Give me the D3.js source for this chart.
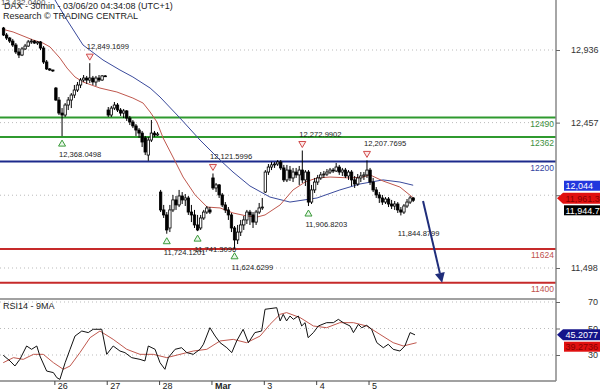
<!DOCTYPE html>
<html><head><meta charset="utf-8">
<script src="https://cdn.jsdelivr.net/npm/d3@7/dist/d3.min.js"></script>
<style>body{margin:0;background:#fff}svg{display:block;font-family:"Liberation Sans",Arial,sans-serif}</style>
</head><body><svg id="c" width="600" height="392"></svg>
<script>
// ---------- DATA ----------
const dayLabels = ["26","27","28","Mar","3","4","5"];
const dayStarts = [17,34,51,68,85,102,119];   // bar index where each labelled day begins
const priceTicks = [12936,12457,11978,11498];
const rsiTicks = [70,50,30];
const levels = [12490,12362,12200,11624,11400];

const open = [
13081,13035,13015,12995,12969,12923,12903,12943,12962,12989,12995,12982,12989,12949,12857,12811,12804,
12685,12606,12520,12507,12573,12606,12639,12672,12705,12738,12751,12738,12751,12725,12751,12738,12765,
12540,12507,12553,12573,12540,12520,12534,12487,12461,12435,12408,12388,12356,12243,12342,12388,12375,
11999,11881,11848,11762,11881,11947,11914,11973,11947,11960,11867,11848,11782,11762,11828,11867,11881,
12092,12026,12046,11980,11914,11881,11848,11762,11683,11735,11782,11815,11867,11848,11801,11867,11894,
11999,12131,12164,12178,12184,12197,12158,12079,12144,12092,12131,12112,12144,12079,12131,11933,12013,
12065,12092,12112,12118,12131,12144,12138,12164,12131,12144,12105,12131,12079,12052,12092,12105,12112,
12144,12065,12013,11980,11960,11933,11953,11920,11907,11920,11881,11867,11907,11933,11960];
const high = [
13088,13048,13022,13009,12982,12949,12956,12976,13002,13009,13002,12995,12995,12962,12870,12817,12806,
12692,12626,12553,12586,12626,12652,12705,12725,12751,12771,12765,12849.1699,12765,12765,12771,12771,12771,
12560,12567,12593,12586,12553,12547,12540,12501,12474,12448,12421,12402,12369,12362,12474,12402,12395,
12013,11914,11867,11914,11980,11973,12013,11999,11986,11973,11914,11881,11848,11848,11881,11907,11900,
12121.5996,12059,12052,11993,11933,11900,11861,11775,11782,11815,11841,11881,11881,11867,11881,11927,11960,
12144,12184,12197,12197,12210,12210,12178,12178,12171,12158,12158,12171,12272.9902,12144,12144,12046,12092,
12112,12131,12138,12151,12158,12158,12191,12178,12158,12158,12144,12144,12105,12118,12131,12131,12207.7695,
12158,12092,12032,11999,11980,11966,11966,11947,11940,11933,11900,11920,11953,11973,11966];
const low = [
13028,13002,12982,12956,12910,12883,12896,12936,12956,12976,12976,12969,12936,12844,12804,12798,12791,
12600,12507,12368.0498,12494,12540,12553,12619,12659,12685,12725,12712,12718,12705,12699,12725,12732,12758,
12494,12494,12540,12527,12501,12487,12468,12441,12421,12369,12356,12296,12243,12205,12329,12362,12369,
11867,11828,11724.1201,11735,11867,11881,11900,11920,11907,11848,11801,11762,11741.3096,11749,11815,11854,11854,
12013,11999,11960,11900,11861,11815,11735,11624.6299,11656,11709,11749,11788,11782,11762,11782,11854,11881,
11993,12112,12144,12158,12171,12144,12065,12065,12072,12065,12092,12046,12059,12039,11906.8203,11920,11993,
12046,12079,12092,12105,12118,12125,12131,12112,12105,12092,12079,12039,12026,12039,12065,12079,12092,
12046,11999,11960,11927,11914,11920,11900,11887,11881,11861,11844.8799,11854,11894,11920,11933];
const close = [
13035,13015,12995,12969,12923,12903,12943,12962,12989,12995,12982,12989,12949,12857,12811,12804,12798,
12606,12520,12507,12573,12606,12639,12672,12705,12738,12751,12738,12751,12725,12751,12738,12765,12763,
12507,12553,12573,12540,12520,12534,12487,12461,12435,12408,12388,12329,12263,12342,12388,12375,12382,
11881,11848,11749,11881,11947,11914,11973,11947,11960,11867,11848,11782,11749,11828,11867,11894,11867,
12026,12046,11980,11914,11881,11848,11762,11683,11735,11782,11815,11867,11848,11801,11867,11894,11900,
12131,12164,12178,12184,12197,12158,12079,12144,12092,12131,12112,12144,12079,12131,11933,12013,12065,
12092,12112,12118,12131,12144,12138,12164,12131,12144,12105,12131,12079,12052,12092,12105,12112,12144,
12065,12013,11980,11960,11933,11953,11920,11907,11920,11881,11867,11907,11933,11960,11944.7];

// fast moving average (red) and slow (blue): [bar position, value]
const maFastIdx = [0,3.6,10.1,13.3,15.6,18.8,21.1,23.7,26.3,31.8,37.3,42.5,45.8,48.1,50.3,52.3,55.5,58.8,62.7,66.6,70.8,75,79.5,82.8,85.4,90.3,94.5,98.4,102.3,106.5,113,117.2,119.5,123.7,129.2,133.5];
const maFastVal = [13074,13055,13002,12982,12956,12883,12817,12758,12725,12685,12659,12619,12586,12527,12461,12356,12230,12098,11980,11900,11894,11861,11841,11834,11848,11914,12013,12065,12092,12098,12092,12098,12112,12072,12032,11961];
const maSlowIdx = [15.6,17.2,21.1,26.3,32.8,38.3,42.5,48.1,51.3,57.8,64.3,70.8,75,80.5,87,93.5,102.3,109.7,116.2,123.7,129.2,133.5];
const maSlowVal = [13319,13266,13134,12969,12870,12804,12758,12685,12626,12487,12342,12210,12131,12039,11966,11933,11960,12013,12052,12079,12065,12044];

const rsiIdx = [0.4,2.6,4.2,5.8,8.0,9.6,11.3,12.3,14.5,16.7,17.8,18.8,20.5,22.1,23.7,25.9,28.0,29.6,32.4,34.0,36.1,38.3,39.9,42.1,44.8,46.4,47.5,49.7,51.3,52.9,54.0,56.2,58.3,60.0,62.1,64.3,65.4,67.5,69.2,70.8,73.0,74.6,76.2,78.3,80.0,82.1,84.3,85.4,87.0,89.2,90.3,91.3,92.4,93.5,94.6,96.2,97.3,98.4,99.4,101.1,102.7,105.4,107.6,109.2,110.8,113.0,114.1,115.7,116.8,118.4,120.0,121.7,123.8,125.4,127.0,129.2,130.8,132.5,134.1];
const rsiVal = [29.8,25.5,21.7,26.7,36.8,34.3,36.8,29.3,17.9,16.7,12.9,11.6,24.2,34.3,44.3,48.1,46.9,49.4,49.4,30.5,36.8,33.0,31.8,28.0,26.7,25.5,36.8,34.3,24.2,19.2,28.0,34.3,35.5,31.8,30.5,34.3,38.1,50.6,44.3,39.3,35.5,31.8,40.6,49.4,39.3,46.9,48.1,64.5,65.0,65.7,55.7,60.7,55.7,59.4,56.9,59.4,51.9,54.4,43.1,46.9,51.9,54.4,54.4,56.9,54.4,51.9,46.9,53.1,50.6,52.4,49.4,39.3,35.5,38.1,34.3,33.0,36.8,46.9,45.2077];
const rsiMaIdx = [0.4,3.7,6.9,10.2,13.4,16.7,19.9,22.1,25.3,28.6,31.8,36.1,40.5,44.8,49.1,53.5,57.8,62.1,66.5,70.8,75.1,79.4,83.8,87,90.3,92.4,96.8,101.1,105.4,109.7,114.1,118.4,122.7,127,130.3,134.6];
const rsiMaVal = [24.2,28.0,26.7,30.5,30.5,24.2,19.2,21.7,31.8,43.1,48.1,41.8,34.3,30.5,30.5,28.0,30.5,33.0,34.3,40.6,41.8,39.3,44.3,53.1,60.7,62.0,58.2,51.9,50.6,54.4,54.4,51.9,45.6,39.3,36.8,39.2736];

const highMarkIdx = [28,68,97,118];
const lowMarkIdx = [19,53,63,75,99];
const lowLabelOnlyIdx = [129];
const topValue = 13432.04;
const arrowFrom = [136.7, 11940];
const arrowTo = [142.9, 11400];

// ---------- DRAW ----------
const svg = d3.select('#c');
const AX = 556;
const x = d3.scaleLinear().domain([0,136]).range([2, 2+136*3.08]);
const y = d3.scaleLinear().domain([11498,12936]).range([268,50]);
const yr = d3.scaleLinear().domain([30,70]).range([355,302]);
const fmt4 = d3.format(",.4f");

svg.append('clipPath').attr('id','mc').append('rect').attr('x',0).attr('y',0).attr('width',AX).attr('height',297);
svg.append('clipPath').attr('id','rc').append('rect').attr('x',0).attr('y',299).attr('width',AX).attr('height',82);

// dotted grids
svg.append('g').selectAll('line').data(priceTicks).join('line')
  .attr('x1',0).attr('x2',AX).attr('y1',d=>y(d)).attr('y2',d=>y(d))
  .attr('stroke','#bbb').attr('stroke-dasharray','1,3');
svg.append('g').selectAll('line').data(rsiTicks).join('line')
  .attr('x1',0).attr('x2',AX).attr('y1',d=>yr(d)).attr('y2',d=>yr(d))
  .attr('stroke','#bbb').attr('stroke-dasharray','1,3');

const main = svg.append('g').attr('clip-path','url(#mc)');

// levels
const levelColors = ['#2f9a2f','#2f9a2f','#1c2a8c','#c62a2a','#c62a2a'];
const levelText = ['#3d8f3d','#3d8f3d','#3344a0','#c0504d','#c0504d'];
main.selectAll('.lv').data(levels).join('line').attr('class','lv')
  .attr('x1',0).attr('x2',AX).attr('y1',d=>y(d)).attr('y2',d=>y(d))
  .attr('stroke',(d,i)=>levelColors[i]).attr('stroke-width',2);
main.selectAll('.lt').data(levels).join('text').attr('class','lt')
  .attr('x',AX-2).attr('y',d=>y(d)+9).attr('text-anchor','end')
  .attr('font-size',8.5).attr('fill',(d,i)=>levelText[i]).text(d=>d);

// moving averages
const line = d3.line().x(d=>x(d[0])).y(d=>y(d[1]));
main.append('path').datum(maSlowIdx.map((v,i)=>[v,maSlowVal[i]]))
  .attr('d',line).attr('fill','none').attr('stroke','#3a4a9c').attr('stroke-width',1);
main.append('path').datum(maFastIdx.map((v,i)=>[v,maFastVal[i]]))
  .attr('d',line).attr('fill','none').attr('stroke','#c0584e').attr('stroke-width',1);

// candles
const bars = open.map((o,i)=>({i,o,h:high[i],l:low[i],c:close[i]}));
const cg = main.append('g');
cg.selectAll('line').data(bars).join('line')
  .attr('x1',d=>x(d.i+0.5)).attr('x2',d=>x(d.i+0.5))
  .attr('y1',d=>y(d.h)).attr('y2',d=>y(d.l)).attr('stroke','#000').attr('stroke-width',1);
cg.selectAll('rect').data(bars).join('rect')
  .attr('x',d=>x(d.i+0.5)-1.2).attr('width',2.4)
  .attr('y',d=>y(Math.max(d.o,d.c)))
  .attr('height',d=>Math.max(0.8,Math.abs(y(d.o)-y(d.c))))
  .attr('fill',d=>d.c>=d.o?'#fff':'#000').attr('stroke','#000').attr('stroke-width',0.8);

// high / low markers
const hm = main.append('g');
highMarkIdx.forEach(i=>{
  const cx=x(i+0.5), hy=y(high[i]);
  hm.append('path').attr('d',`M${cx-3.5},${hy-9}L${cx+3.5},${hy-9}L${cx},${hy-3}Z`)
    .attr('fill','#fde8e8').attr('stroke','#d04a4a').attr('stroke-width',1);
  hm.append('text').attr('x',cx-3).attr('y',hy-14).attr('font-size',7.6).attr('fill','#222').text(fmt4(high[i]));
});
lowMarkIdx.forEach(i=>{
  const cx=x(i+0.5), ly=y(low[i]);
  hm.append('path').attr('d',`M${cx-3.5},${ly+10}L${cx+3.5},${ly+10}L${cx},${ly+4}Z`)
    .attr('fill','#e8f6e8').attr('stroke','#3a9a3a').attr('stroke-width',1);
  hm.append('text').attr('x',cx-3).attr('y',ly+21).attr('font-size',7.6).attr('fill','#222').text(fmt4(low[i]));
});
lowLabelOnlyIdx.forEach(i=>{
  hm.append('text').attr('x',x(i+0.5)-3).attr('y',y(low[i])+21).attr('font-size',7.6).attr('fill','#222').text(fmt4(low[i]));
});

// forecast arrow
{
  const x1=x(arrowFrom[0]), y1=y(arrowFrom[1]), x2=x(arrowTo[0]), y2=y(arrowTo[1]);
  const dx=x2-x1, dy=y2-y1, L=Math.hypot(dx,dy), ux=dx/L, uy=dy/L;
  const bx=x2-ux*10, by=y2-uy*10;
  main.append('line').attr('x1',x1).attr('y1',y1).attr('x2',bx).attr('y2',by)
    .attr('stroke','#1f2d7a').attr('stroke-width',2);
  main.append('path').attr('d',`M${x2},${y2}L${bx-uy*5},${by+ux*5}L${bx+uy*5},${by-ux*5}Z`).attr('fill','#1f2d7a');
}

// RSI panel
const rg = svg.append('g').attr('clip-path','url(#rc)');
const rline = d3.line().x(d=>x(d[0])).y(d=>yr(d[1]));
rg.append('path').datum(rsiMaIdx.map((v,i)=>[v,rsiMaVal[i]])).attr('d',rline)
  .attr('fill','none').attr('stroke','#c0584e').attr('stroke-width',1);
rg.append('path').datum(rsiIdx.map((v,i)=>[v,rsiVal[i]])).attr('d',rline)
  .attr('fill','none').attr('stroke','#111').attr('stroke-width',1);

// frame lines
svg.append('line').attr('x1',0).attr('x2',AX).attr('y1',299).attr('y2',299).attr('stroke','#444').attr('stroke-width',1.2);
svg.append('line').attr('x1',0).attr('x2',AX).attr('y1',381).attr('y2',381).attr('stroke','#444').attr('stroke-width',1.2);
svg.append('line').attr('x1',AX).attr('x2',AX).attr('y1',0).attr('y2',381).attr('stroke','#888').attr('stroke-width',1.5);

// price axis
const pax = svg.append('g').attr('transform',`translate(${AX},0)`)
  .call(d3.axisRight(y).tickValues(priceTicks).tickFormat(d3.format(",")).tickSize(4).tickPadding(11));
pax.select('.domain').remove();
pax.selectAll('text').attr('font-size',9).attr('fill','#333').attr('font-family','Liberation Sans, Arial');
pax.selectAll('line').attr('stroke','#666');

// RSI axis
const rax = svg.append('g').attr('transform',`translate(${AX},0)`)
  .call(d3.axisRight(yr).tickValues(rsiTicks).tickSize(4).tickPadding(28));
rax.select('.domain').remove();
rax.selectAll('text').attr('font-size',9).attr('fill','#333').attr('font-family','Liberation Sans, Arial');
rax.selectAll('line').attr('stroke','#666');

// time axis
const tax = svg.append('g').attr('transform','translate(0,381)')
  .call(d3.axisBottom(x).tickValues(dayStarts).tickFormat((d,i)=>dayLabels[i]).tickSize(4));
tax.select('.domain').remove();
tax.selectAll('line').attr('stroke','#444');
tax.selectAll('text').attr('text-anchor','start').attr('x',3).attr('y',1.5).attr('font-size',9).attr('fill','#222')
  .attr('font-family','Liberation Sans, Arial')
  .attr('font-weight',(d,i)=>dayLabels[i]==='Mar'?'bold':'normal');

// value tags
function tag(yc, text, bg, fg, arrow){
  const g = svg.append('g');
  if(arrow){
    g.append('path').attr('d',`M557,${yc}L563,${yc-5.5}L600,${yc-5.5}L600,${yc+5.5}L563,${yc+5.5}Z`).attr('fill',bg);
  } else {
    g.append('rect').attr('x',564).attr('y',yc-5).attr('width',36).attr('height',10).attr('fill',bg);
  }
  g.append('text').attr('x',565.5).attr('y',yc+3.3).attr('font-size',9).attr('fill',fg).text(text);
}
tag(y(maSlowVal[maSlowVal.length-1])+0.5, d3.format(",.0f")(maSlowVal[maSlowVal.length-1]), '#2236dd', '#fff', false);
tag(y(maFastVal[maFastVal.length-1])+0.5, d3.format(",.1f")(maFastVal[maFastVal.length-1]+0.3), '#e01010', '#8a0000', true);
tag(y(close[close.length-1])+10, d3.format(",.1f")(close[close.length-1]), '#000', '#fff', false);
tag(yr(rsiVal[rsiVal.length-1]), d3.format(".4f")(rsiVal[rsiVal.length-1]), '#14148a', '#fff', true);
tag(yr(rsiMaVal[rsiMaVal.length-1])+4, d3.format(".4f")(rsiMaVal[rsiMaVal.length-1]), '#e01010', '#8a0000', false);

// header texts
svg.append('text').attr('x',1).attr('y',5).attr('font-size',8).attr('fill','#555').text(fmt4(topValue));
svg.append('text').attr('x',4).attr('y',9).attr('font-size',9).attr('fill','#222').text('DAX - 30min - 03/06/20 04:34:08 (UTC+1)');
svg.append('text').attr('x',3).attr('y',19).attr('font-size',9).attr('fill','#222').text('Research © TRADING CENTRAL');
svg.append('text').attr('x',3).attr('y',309).attr('font-size',9).attr('fill','#222').text('RSI14 - 9MA');
</script></body></html>
